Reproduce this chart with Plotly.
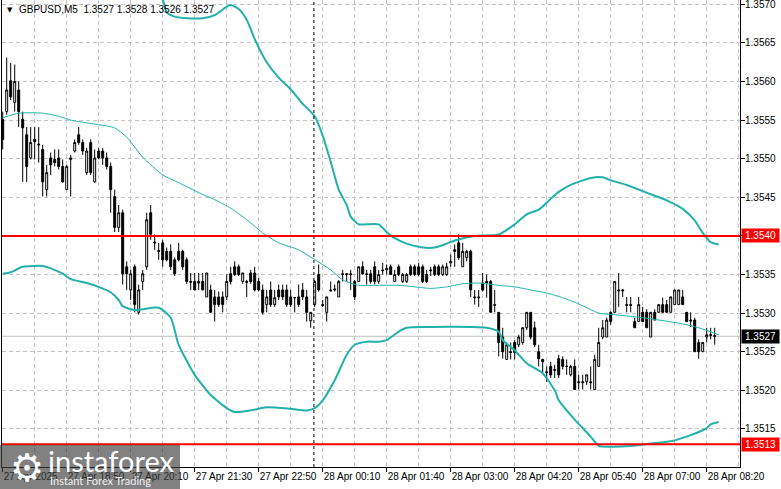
import plotly.graph_objects as go

# ---------------- data ----------------
bar_index = list(range(179))

open_ = [1.35551,1.35561,1.35601,1.35573,1.35589,1.35551,1.35531,1.35501,1.35525,1.35519,
1.35512,1.35460,1.35501,1.35499,1.35501,1.35490,1.35460,1.35499,1.35510,1.35531,
1.35521,1.35482,1.35521,1.35470,1.35510,1.35510,1.35501,1.35490,1.35451,1.35411,
1.35430,1.35360,1.35330,1.35360,1.35301,1.35341,1.35360,1.35430,1.35392,1.35381,
1.35391,1.35380,1.35380,1.35369,1.35380,1.35380,1.35369,1.35341,1.35341,1.35341,
1.35341,1.35321,1.35330,1.35321,1.35321,1.35321,1.35321,1.35351,1.35360,1.35360,
1.35341,1.35341,1.35352,1.35352,1.35341,1.35330,1.35311,1.35330,1.35311,1.35330,
1.35330,1.35330,1.35321,1.35320,1.35321,1.35330,1.35321,1.35290,1.35311,1.35350,
1.35311,1.35301,1.35330,1.35330,1.35321,1.35351,1.35351,1.35351,1.35341,1.35341,
1.35360,1.35351,1.35351,1.35360,1.35341,1.35356,1.35356,1.35360,1.35341,1.35360,
1.35341,1.35341,1.35360,1.35360,1.35360,1.35360,1.35350,1.35356,1.35360,1.35360,
1.35350,1.35350,1.35365,1.35382,1.35391,1.35360,1.35372,1.35380,1.35321,1.35321,
1.35339,1.35341,1.35341,1.35311,1.35301,1.35269,1.35240,1.35250,1.35262,1.35259,
1.35262,1.35281,1.35301,1.35281,1.35250,1.35240,1.35224,1.35231,1.35227,1.35241,
1.35240,1.35231,1.35220,1.35231,1.35211,1.35211,1.35211,1.35211,1.35201,1.35231,
1.35269,1.35269,1.35301,1.35301,1.35330,1.35330,1.35311,1.35311,1.35289,1.35289,
1.35301,1.35301,1.35269,1.35301,1.35301,1.35311,1.35311,1.35301,1.35311,1.35311,
1.35321,1.35301,1.35291,1.35291,1.35262,1.35250,1.35269,1.35271,1.35271]

high = [1.35561,1.35631,1.35624,1.35622,1.35600,1.35561,1.35541,1.35541,1.35541,1.35541,
1.35518,1.35492,1.35508,1.35512,1.35512,1.35499,1.35492,1.35505,1.35525,1.35541,
1.35525,1.35514,1.35525,1.35512,1.35514,1.35514,1.35508,1.35495,1.35460,1.35440,
1.35434,1.35367,1.35356,1.35363,1.35337,1.35356,1.35430,1.35440,1.35402,1.35391,
1.35395,1.35385,1.35389,1.35372,1.35391,1.35382,1.35372,1.35352,1.35352,1.35352,
1.35352,1.35352,1.35337,1.35330,1.35328,1.35328,1.35350,1.35360,1.35367,1.35363,
1.35352,1.35343,1.35356,1.35360,1.35346,1.35337,1.35330,1.35341,1.35330,1.35337,
1.35337,1.35337,1.35330,1.35321,1.35337,1.35339,1.35330,1.35301,1.35343,1.35363,
1.35317,1.35321,1.35341,1.35337,1.35343,1.35356,1.35352,1.35356,1.35343,1.35360,
1.35367,1.35356,1.35356,1.35367,1.35356,1.35365,1.35363,1.35363,1.35356,1.35363,
1.35352,1.35352,1.35363,1.35363,1.35365,1.35363,1.35356,1.35360,1.35363,1.35363,
1.35363,1.35365,1.35376,1.35389,1.35402,1.35391,1.35382,1.35382,1.35330,1.35330,
1.35352,1.35350,1.35343,1.35330,1.35301,1.35281,1.35262,1.35262,1.35265,1.35272,
1.35282,1.35301,1.35301,1.35289,1.35259,1.35241,1.35231,1.35237,1.35233,1.35246,
1.35244,1.35240,1.35233,1.35240,1.35220,1.35220,1.35220,1.35231,1.35246,1.35281,
1.35291,1.35294,1.35302,1.35341,1.35352,1.35331,1.35321,1.35321,1.35294,1.35321,
1.35308,1.35305,1.35301,1.35305,1.35311,1.35320,1.35317,1.35321,1.35330,1.35330,
1.35330,1.35301,1.35301,1.35294,1.35266,1.35262,1.35281,1.35281,1.35281]

low = [1.35512,1.35557,1.35576,1.35561,1.35541,1.35470,1.35470,1.35499,1.35499,1.35495,
1.35451,1.35451,1.35479,1.35490,1.35486,1.35469,1.35460,1.35451,1.35508,1.35518,
1.35505,1.35479,1.35479,1.35469,1.35499,1.35492,1.35486,1.35430,1.35405,1.35405,
1.35337,1.35330,1.35317,1.35301,1.35298,1.35330,1.35356,1.35395,1.35382,1.35369,
1.35360,1.35367,1.35356,1.35348,1.35367,1.35356,1.35338,1.35330,1.35330,1.35330,
1.35330,1.35321,1.35301,1.35289,1.35308,1.35301,1.35317,1.35337,1.35348,1.35348,
1.35338,1.35321,1.35338,1.35328,1.35328,1.35298,1.35301,1.35308,1.35308,1.35317,
1.35317,1.35308,1.35308,1.35301,1.35308,1.35317,1.35289,1.35281,1.35308,1.35328,
1.35308,1.35289,1.35328,1.35328,1.35321,1.35341,1.35341,1.35330,1.35317,1.35341,
1.35350,1.35337,1.35338,1.35337,1.35338,1.35350,1.35350,1.35350,1.35341,1.35348,
1.35339,1.35339,1.35348,1.35348,1.35348,1.35339,1.35339,1.35348,1.35348,1.35348,
1.35348,1.35348,1.35360,1.35360,1.35369,1.35360,1.35367,1.35321,1.35311,1.35308,
1.35328,1.35320,1.35301,1.35301,1.35244,1.35241,1.35240,1.35240,1.35240,1.35256,
1.35259,1.35278,1.35266,1.35256,1.35231,1.35223,1.35211,1.35216,1.35216,1.35216,
1.35227,1.35220,1.35218,1.35201,1.35201,1.35201,1.35207,1.35201,1.35201,1.35231,
1.35266,1.35269,1.35285,1.35301,1.35308,1.35321,1.35301,1.35301,1.35281,1.35289,
1.35289,1.35281,1.35269,1.35291,1.35301,1.35301,1.35301,1.35301,1.35311,1.35311,
1.35311,1.35289,1.35282,1.35250,1.35241,1.35250,1.35262,1.35266,1.35259]

close = [1.35525,1.35589,1.35580,1.35600,1.35561,1.35540,1.35490,1.35521,1.35522,1.35518,
1.35470,1.35482,1.35492,1.35495,1.35490,1.35470,1.35490,1.35501,1.35521,1.35521,
1.35510,1.35510,1.35482,1.35501,1.35501,1.35501,1.35490,1.35460,1.35411,1.35430,
1.35351,1.35351,1.35351,1.35311,1.35330,1.35351,1.35421,1.35402,1.35391,1.35380,
1.35369,1.35369,1.35360,1.35351,1.35369,1.35360,1.35341,1.35340,1.35330,1.35339,
1.35330,1.35352,1.35301,1.35311,1.35311,1.35311,1.35341,1.35341,1.35350,1.35350,
1.35352,1.35340,1.35341,1.35330,1.35330,1.35301,1.35321,1.35311,1.35320,1.35321,
1.35321,1.35311,1.35311,1.35320,1.35311,1.35321,1.35301,1.35301,1.35341,1.35330,
1.35310,1.35321,1.35329,1.35331,1.35341,1.35350,1.35350,1.35350,1.35321,1.35360,
1.35351,1.35350,1.35341,1.35341,1.35350,1.35355,1.35358,1.35350,1.35350,1.35350,
1.35350,1.35350,1.35350,1.35350,1.35350,1.35341,1.35341,1.35355,1.35350,1.35350,
1.35360,1.35360,1.35367,1.35380,1.35372,1.35380,1.35380,1.35330,1.35320,1.35320,
1.35330,1.35339,1.35301,1.35310,1.35262,1.35250,1.35259,1.35249,1.35249,1.35269,
1.35281,1.35301,1.35269,1.35259,1.35241,1.35237,1.35223,1.35220,1.35226,1.35220,
1.35231,1.35231,1.35231,1.35201,1.35210,1.35210,1.35220,1.35210,1.35240,1.35262,
1.35281,1.35291,1.35289,1.35341,1.35329,1.35329,1.35310,1.35310,1.35281,1.35311,
1.35289,1.35281,1.35301,1.35291,1.35311,1.35301,1.35301,1.35321,1.35330,1.35330,
1.35311,1.35289,1.35290,1.35250,1.35250,1.35262,1.35272,1.35272,1.35270]

# Bollinger-style envelope (bar index, price)
upper_idx = [38,40,41,43,46,50,53,56,57,59,61,63,66,69,72,75,78,80,82,84,86,87,89,91,94,96,98,101,105,108,
             111,113,118,124,128,131,134,137,139,142,145,148,150,152,156,161,166,170,173,175,177,179]
upper_val = [1.35720,1.35706,1.35690,1.35684,1.35682,1.35682,1.35686,1.35697,1.35699,1.35694,
             1.35680,1.35655,1.35625,1.35605,1.35590,1.35571,1.35555,1.35530,1.35496,1.35460,
             1.35440,1.35425,1.35415,1.35415,1.35415,1.35405,1.35397,1.35390,1.35385,1.35385,
             1.35390,1.35394,1.35400,1.35402,1.35415,1.35428,1.35434,1.35448,1.35457,1.35466,
             1.35472,1.35476,1.35476,1.35472,1.35466,1.35456,1.35446,1.35435,1.35420,1.35404,
             1.35392,1.35389]

mid_idx = [0,4,10,14,17,19,24,28,31,35,40,44,49,53,57,61,65,69,74,79,82,85,89,94,99,103,107,111,115,119,
           124,128,132,136,140,144,149,153,160,169,174,179]
mid_val = [1.35553,1.35559,1.35559,1.35555,1.35550,1.35548,1.35544,1.35540,1.35528,1.35502,
           1.35479,1.35469,1.35456,1.35447,1.35436,1.35421,1.35404,1.35391,1.35382,1.35366,
           1.35356,1.35343,1.35336,1.35336,1.35336,1.35334,1.35332,1.35334,1.35338,1.35339,
           1.35336,1.35334,1.35330,1.35326,1.35320,1.35312,1.35300,1.35298,1.35294,1.35287,
           1.35281,1.35272]

lower_idx = [0,2,5,10,12,15,17,21,24,27,29,30,33,39,42,44,48,52,56,58,62,66,72,76,78,80,83,86,88,91,
             94,96,99,101,107,117,121,124,125,128,131,135,138,139,143,147,149,152,157,162,167,172,176,177,179]
lower_val = [1.35351,1.35353,1.35360,1.35361,1.35358,1.35351,1.35344,1.35339,1.35334,1.35327,
             1.35317,1.35309,1.35304,1.35307,1.35294,1.35259,1.35220,1.35194,1.35177,1.35172,
             1.35174,1.35178,1.35176,1.35174,1.35177,1.35187,1.35213,1.35246,1.35259,1.35263,
             1.35263,1.35265,1.35276,1.35281,1.35282,1.35282,1.35281,1.35276,1.35265,1.35252,
             1.35235,1.35222,1.35200,1.35187,1.35162,1.35140,1.35128,1.35127,1.35128,1.35131,
             1.35134,1.35142,1.35151,1.35156,1.35159]

resistance_level = 1.3540
support_level = 1.3513
bid_level = 1.3527
day_separator_index = 78

time_tick_index = [0,16,32,48,64,80,96,112,128,144,160,176]
time_tick_text = ["27 Apr 2025","27 Apr 18:50","27 Apr 20:10","27 Apr 21:30","27 Apr 22:50",
                  "28 Apr 00:10","28 Apr 01:40","28 Apr 03:00","28 Apr 04:20","28 Apr 05:40",
                  "28 Apr 07:00","28 Apr 08:20"]
price_ticks = [1.3515,1.3520,1.3525,1.3530,1.3535,1.3540,1.3545,1.3550,1.3555,1.3560,1.3565,1.3570]
price_tick_text = ["1.3515","1.3520","1.3525","1.3530","1.3535","1.3540","1.3545","1.3550",
                   "1.3555","1.3560","1.3565","1.3570"]
title_text = "GBPUSD,M5  1.3527 1.3528 1.3526 1.3527"

# ---------------- figure ----------------
FONT = "Liberation Sans, Arial, sans-serif"
TEAL = "#20B2AA"
GRID = "#C4C4C4"

fig = go.Figure()
fig.add_trace(go.Candlestick(
    x=bar_index, open=open_, high=high, low=low, close=close,
    increasing=dict(line=dict(color="black", width=1), fillcolor="white"),
    decreasing=dict(line=dict(color="black", width=1), fillcolor="black"),
    whiskerwidth=0, showlegend=False, hoverinfo="skip"))

fig.add_trace(go.Scatter(x=mid_idx, y=mid_val, mode="lines",
                         line=dict(color=TEAL, width=1, shape="spline", smoothing=0.6),
                         showlegend=False, hoverinfo="skip"))
fig.add_trace(go.Scatter(x=upper_idx, y=upper_val, mode="lines",
                         line=dict(color=TEAL, width=2, shape="spline", smoothing=0.6),
                         showlegend=False, hoverinfo="skip"))
fig.add_trace(go.Scatter(x=lower_idx, y=lower_val, mode="lines",
                         line=dict(color=TEAL, width=2, shape="spline", smoothing=0.6),
                         showlegend=False, hoverinfo="skip"))

shapes = [
    dict(type="line", xref="paper", x0=0, x1=1, yref="y", y0=bid_level, y1=bid_level,
         line=dict(color="#C0C0C0", width=1), layer="below"),
    dict(type="line", xref="paper", x0=0, x1=1, yref="y", y0=resistance_level, y1=resistance_level,
         line=dict(color="#FF0000", width=2), layer="above"),
    dict(type="line", xref="paper", x0=0, x1=1, yref="y", y0=support_level, y1=support_level,
         line=dict(color="#FF0000", width=2), layer="above"),
    dict(type="line", xref="x", x0=day_separator_index - 0.2, x1=day_separator_index - 0.2,
         yref="paper", y0=0, y1=1, line=dict(color="black", width=1, dash="3px,3px"), layer="above"),
    # logo panel
    dict(type="rect", xref="paper", yref="paper", x0=-0.0028, x1=0.2412, y0=-0.0471, y1=0.0471,
         fillcolor="rgba(64,64,64,0.66)", line=dict(width=0), layer="above"),
]

annotations = [
    dict(xref="paper", yref="paper", x=0.0102, y=0.9786, text="▼", showarrow=False,
         font=dict(family="DejaVu Sans", size=7, color="black"), xanchor="center", yanchor="middle"),
    dict(xref="paper", yref="paper", x=0.0217, y=0.9786, text=title_text, showarrow=False,
         font=dict(family=FONT, size=10, color="black"), xanchor="left", yanchor="middle",
         borderpad=0),
]
# right-hand price scale labels
for val, txt in zip(price_ticks, price_tick_text):
    if abs(val - resistance_level) < 1e-9:
        continue  # hidden behind the level box, as in the terminal
    annotations.append(dict(xref="paper", yref="y", x=1, y=val, text=txt, showarrow=False,
                            xanchor="left", yanchor="middle", xshift=4, borderpad=0,
                            font=dict(family=FONT, size=10, color="black")))
for lvl, bg in [(resistance_level, "#FF0000"), (support_level, "#FF0000"), (bid_level, "#000000")]:
    annotations.append(dict(xref="paper", yref="y", x=1, y=lvl, text=f"{lvl:.4f}", showarrow=False,
                            xanchor="left", yanchor="middle", xshift=1, width=35, height=11,
                            bgcolor=bg, borderpad=1, font=dict(family=FONT, size=10, color="white")))
annotations += [
    dict(xref="paper", yref="paper", x=0.0339, y=-0.002, text="⚙", showarrow=False,
         font=dict(family="DejaVu Sans", size=38, color="white"), xanchor="center", yanchor="middle"),
    dict(xref="paper", yref="paper", x=0.060, y=0.013, text="instaforex", showarrow=False,
         font=dict(family="Lato, Open Sans, sans-serif", size=29, color="white"),
         xanchor="left", yanchor="middle"),
    dict(xref="paper", yref="paper", x=0.062, y=-0.029, text="Instant Forex Trading", showarrow=False,
         font=dict(family="Lato, Open Sans, sans-serif", size=11, color="rgba(255,255,255,0.9)"),
         xanchor="left", yanchor="middle"),
]

fig.update_layout(
    width=781, height=489, autosize=False,
    margin=dict(l=2, r=41, t=0, b=22, pad=0),
    paper_bgcolor="white", plot_bgcolor="white",
    font=dict(family=FONT, size=10, color="black"),
    showlegend=False, shapes=shapes, annotations=annotations,
    xaxis=dict(range=[-0.175, 184.325], rangeslider=dict(visible=False), automargin=False,
               tickmode="array", tickvals=time_tick_index, ticktext=time_tick_text,
               ticklabelposition="outside right", tickangle=0,
               ticks="outside", ticklen=4, tickcolor="black", tickwidth=1,
               showgrid=True, gridcolor=GRID, griddash="4px,3px", gridwidth=1,
               minor=dict(tickmode="linear", tick0=0, dtick=8, showgrid=True,
                          gridcolor=GRID, griddash="4px,3px", gridwidth=1, ticks=""),
               showline=True, linecolor="black", linewidth=1, zeroline=False,
               tickfont=dict(family=FONT, size=10, color="black"), fixedrange=True),
    yaxis=dict(range=[1.3510065, 1.357056], side="right", automargin=False,
               tickmode="array", tickvals=price_ticks, showticklabels=False,
               ticks="outside", ticklen=4, tickcolor="black", tickwidth=1,
               showgrid=True, gridcolor=GRID, griddash="4px,3px", gridwidth=1,
               showline=True, mirror=True, linecolor="black", linewidth=1, zeroline=False,
               fixedrange=True),
)

fig.write_html("out.html",
               config={"displayModeBar": False, "staticPlot": True},
               post_script="document.body.style.margin='0px';document.body.style.overflow='hidden';")
